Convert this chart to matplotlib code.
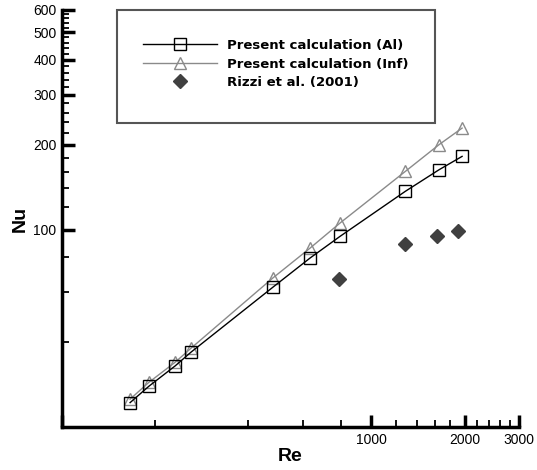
import numpy as np
import matplotlib.pyplot as plt
from matplotlib.ticker import FixedLocator, NullFormatter, FixedFormatter
from matplotlib.patches import Rectangle

plt.rcParams['font.family'] = ['Liberation Sans', 'DejaVu Sans']

# data ------------------------------------------------------------------------
re_al = [166, 191, 232, 261, 480, 634, 792, 1287, 1654, 1964]
nu_al = [24.4, 27.9, 32.9, 36.8, 62.5, 79.4, 94.7, 136.7, 163, 181.8]

re_inf = [166, 191, 232, 261, 480, 634, 792, 1287, 1654, 1964]
nu_inf = [25.1, 28.8, 33.9, 38.0, 67.4, 86.1, 105.6, 160.8, 200, 229]

re_rizzi = [788, 1287, 1630, 1900]
nu_rizzi = [67.1, 89.2, 95.2, 98.9]

x_major = [100, 1000, 2000, 3000]
x_labels = ['', '1000', '2000', '3000']
x_minor = [200, 400, 600, 800, 1200, 1400, 1600, 1800, 2200, 2400, 2600, 2800]
y_major = [100, 200, 300, 400, 500, 600]
y_minor = [v for v in range(20, 600, 20) if v not in y_major]

# figure ---------------------------------------------------------------------
fig = plt.figure(figsize=(5.37, 4.70), dpi=100)
ax = fig.add_axes([62 / 537, 43 / 470, 457 / 537, 417 / 470])
ax.set_xscale('log')
ax.set_yscale('log')
ax.set_xlim(100, 3000)
ax.set_ylim(20, 600)

l1, = ax.plot(re_al, nu_al, color='black', lw=1.0, marker='s', ms=8.2,
              mfc='none', mec='black', mew=1.0, zorder=3,
              label='Present calculation (Al)')
l2, = ax.plot(re_inf, nu_inf, color='#8a8a8a', lw=1.0, marker='^', ms=9.2,
              mfc='none', mec='#8a8a8a', mew=1.0, zorder=2,
              label='Present calculation (Inf)')
l3, = ax.plot(re_rizzi, nu_rizzi, ls='none', marker='D', ms=7.5,
              color='#404040', zorder=4, label='Rizzi et al. (2001)')

# axes style -----------------------------------------------------------------
for s in ['top', 'right']:
    ax.spines[s].set_visible(False)
for s in ['left', 'bottom']:
    ax.spines[s].set_linewidth(2.5)

ax.xaxis.set_major_locator(FixedLocator(x_major))
ax.xaxis.set_major_formatter(FixedFormatter(x_labels))
ax.xaxis.set_minor_locator(FixedLocator(x_minor))
ax.xaxis.set_minor_formatter(NullFormatter())
ax.yaxis.set_major_locator(FixedLocator(y_major))
ax.yaxis.set_major_formatter(FixedFormatter([str(v) for v in y_major]))
ax.yaxis.set_minor_locator(FixedLocator(y_minor))
ax.yaxis.set_minor_formatter(NullFormatter())

ax.tick_params(which='major', direction='in', length=9, width=2.5,
               labelsize=10, pad=4)
ax.tick_params(which='minor', direction='in', length=5, width=1.3)

ax.set_xlabel('Re', fontsize=14, fontweight='bold', labelpad=1)
ax.set_ylabel('Nu', fontsize=14, fontweight='bold', labelpad=3)

# legend -----------------------------------------------------------------------
leg = fig.legend(handles=[l1, l2, l3], loc='upper left',
                 bbox_to_anchor=(143 / 537, 1 - 39 / 470),
                 frameon=False,
                 prop={'family': 'DejaVu Sans', 'weight': 'bold', 'size': 9.5},
                 handlelength=5.6, handletextpad=0.75, labelspacing=0.42,
                 borderpad=0, borderaxespad=0)
fig.patches.append(Rectangle((117 / 537, 1 - 123 / 470), 318 / 537, 113 / 470,
                             transform=fig.transFigure, fill=False,
                             edgecolor='#555555', lw=1.5))

fig.savefig('out.png', dpi=100)
